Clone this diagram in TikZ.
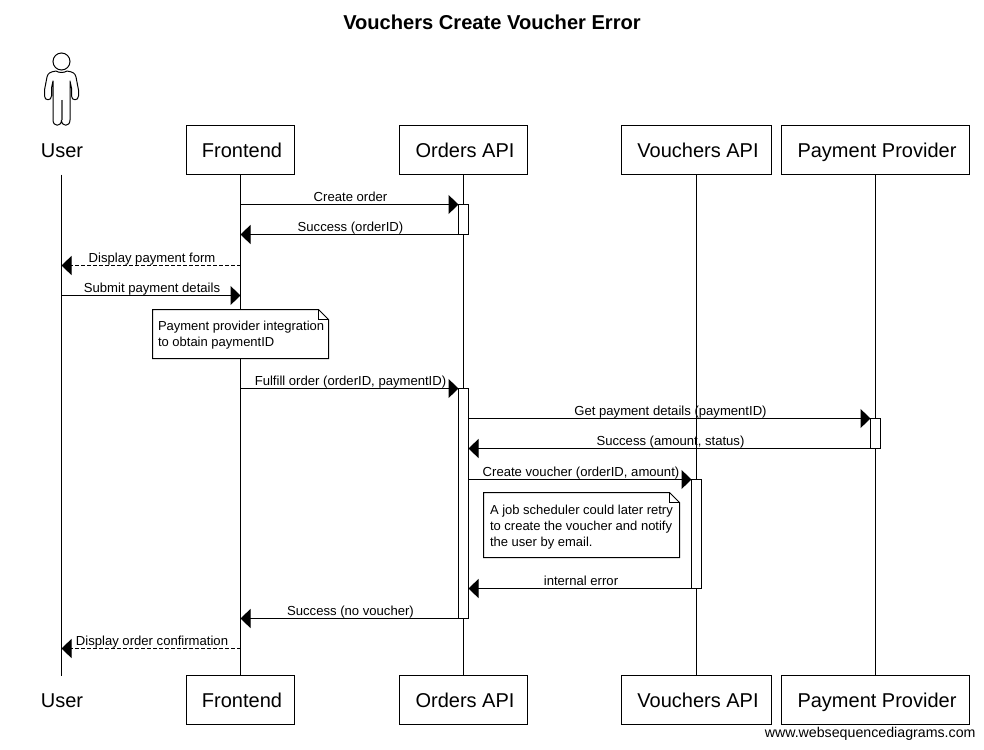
\documentclass[tikz,border=0pt]{standalone}
\usepackage{fontspec}
\setmainfont{Liberation Sans}
\usetikzlibrary{arrows.meta, positioning, calc}

\begin{document}
\begin{tikzpicture}[
    x=1pt, y=-1pt,
    line width=1pt,
    actorbase/.style={rectangle, minimum height=49pt, inner sep=0pt, outer sep=0pt, text height=18pt, text depth=4pt, font=\fontsize{20}{24}\selectfont},
    actor/.style={actorbase, draw=black, fill=white, execute at begin node=\kern3pt},
    plainactor/.style={actorbase, execute at begin node=\kern1pt},
    active/.style={rectangle, draw=black, fill=white, minimum width=10pt, inner sep=0pt, outer sep=0pt},
    lifeline/.style={line width=1pt, black},
    forward/.style={-{Triangle[length=10pt,width=19pt]}, black},
    backward/.style={-{Triangle[length=10pt,width=19pt]}, black, dash pattern=on 4pt off 2pt},
    msg/.style={midway, above=1pt, xshift=1pt, inner sep=0pt, outer sep=0pt, text height=10pt, text depth=2pt, font=\fontsize{13.1}{16}\selectfont},
    notebox/.style={rectangle, inner sep=0pt, outer sep=0pt, anchor=north west},
    notetext/.style={rectangle, inner sep=0pt, outer sep=0pt, align=left, anchor=north west, font=\fontsize{13}{16}\selectfont}
]
    \useasboundingbox (0,0) rectangle (984,749);
    \fill[white] (0,0) rectangle (984,749);

    % Title
    \node (title) [font=\fontsize{20.1}{24}\selectfont\bfseries] at (492,22) {Vouchers Create Voucher Error};

    % ========== Actors (top) ==========
    \node (user_top) [plainactor, minimum width=60pt] at (61.5,150) {User};
    \node (frontend_top) [actor, minimum width=108pt] at (240.5,150) {Frontend};
    \node (orders_top) [actor, minimum width=128pt] at (463.5,150) {Orders API};
    \node (vouchers_top) [actor, minimum width=150pt] at (696.5,150) {Vouchers API};
    \node (payment_top) [actor, minimum width=188pt] at (875.5,150) {Payment Provider};

    % ========== Actors (bottom) ==========
    \node (user_bot) [plainactor, minimum width=60pt] at (61.5,700) {User};
    \node (frontend_bot) [actor, minimum width=108pt] at (240.5,700) {Frontend};
    \node (orders_bot) [actor, minimum width=128pt] at (463.5,700) {Orders API};
    \node (vouchers_bot) [actor, minimum width=150pt] at (696.5,700) {Vouchers API};
    \node (payment_bot) [actor, minimum width=188pt] at (875.5,700) {Payment Provider};

    % Stick figure
    \draw[line width=1pt] (61.5,61.5) circle (8.5);
    \draw[line width=1pt, line join=round]
        (56,71) .. controls (50,72) and (48,73) .. (47,77)
        -- (44.5,90) -- (44.5,96) .. controls (44.5,101) and (51.5,101) .. (51.5,96)
        -- (51.5,88) -- (53,81) -- (53,120) .. controls (53,127) and (61.5,127) .. (61.5,120)
        .. controls (61.5,127) and (70,127) .. (70,120)
        -- (70,81) -- (71.5,88) -- (71.5,96) .. controls (71.5,101) and (78.5,101) .. (78.5,96)
        -- (78.5,90) -- (76,77) .. controls (75,73) and (73,72) .. (67,71)
        .. controls (64,73) and (59,73) .. (56,71);
    \draw[line width=2pt, black!60] (61.5,100) -- (61.5,120);

    % Lifelines
    \draw [lifeline] (user_top.south) -- (user_bot.north);
    \draw [lifeline] (frontend_top.south) -- (frontend_bot.north);
    \draw [lifeline] (orders_top.south) -- (orders_bot.north);
    \draw [lifeline] (vouchers_top.south) -- (vouchers_bot.north);
    \draw [lifeline] (payment_top.south) -- (payment_bot.north);

    % Activations
    \node (orders_act1) [active, minimum height=30pt] at (463.5,219.5) {};
    \node (orders_act2) [active, minimum height=230pt] at (463.5,503.5) {};
    \node (payment_act) [active, minimum height=30pt] at (875.5,433.5) {};
    \node (vouchers_act) [active, minimum height=109pt] at (696.5,534) {};

    % Free ends on the lifelines
    \coordinate (f_create) at (240.5,204.5);
    \coordinate (f_success) at (240.5,234.5);
    \coordinate (f_form) at (240.5,265.5);
    \coordinate (u_form) at (61.5,265.5);
    \coordinate (u_submit) at (61.5,295.5);
    \coordinate (f_submit) at (240.5,295.5);
    \coordinate (f_fulfill) at (240.5,388.5);
    \coordinate (f_done) at (240.5,618.5);
    \coordinate (f_confirm) at (240.5,648.5);
    \coordinate (u_confirm) at (61.5,648.5);
    \coordinate (o_get) at (468.5,418.5);
    \coordinate (o_success) at (468.5,448.5);
    \coordinate (o_voucher) at (468.5,479.5);
    \coordinate (o_error) at (468.5,588.5);

    % Order creation
    \draw [forward] (f_create) -- (orders_act1.north west) node[msg] {Create order};
    \draw [forward] (orders_act1.south west) -- (f_success) node[msg] {Success (orderID)};
    \draw [backward] (f_form) -- (u_form) node[msg] {Display payment form};
    \draw [forward] (u_submit) -- (f_submit) node[msg] {Submit payment details};

    % Note on Frontend
    \node (note_pay) [notebox, minimum width=176pt, minimum height=49pt] at (152.5,309.5) {};
    \draw[fill=white] (note_pay.north west) -- ([xshift=-10pt]note_pay.north east) -- ([yshift=-10pt]note_pay.north east)
        -- (note_pay.south east) -- (note_pay.south west) -- cycle;
    \draw ([xshift=-10pt]note_pay.north east) -- ([xshift=-10pt,yshift=-10pt]note_pay.north east) -- ([yshift=-10pt]note_pay.north east);
    \node (note_pay_text) [notetext] at (158,321) {Payment provider integration\\to obtain paymentID};

    % Fulfilment
    \draw [forward] (f_fulfill) -- (orders_act2.north west) node[msg] {Fulfill order (orderID, paymentID)};
    \draw [forward] (o_get) -- (payment_act.north west) node[msg] {Get payment details (paymentID)};
    \draw [forward] (payment_act.south west) -- (o_success) node[msg] {Success (amount, status)};
    \draw [forward] (o_voucher) -- (vouchers_act.north west) node[msg] {Create voucher (orderID, amount)};

    % Note on Vouchers API
    \node (note_job) [notebox, minimum width=196pt, minimum height=65pt] at (483.5,492.5) {};
    \draw[fill=white] (note_job.north west) -- ([xshift=-10pt]note_job.north east) -- ([yshift=-10pt]note_job.north east)
        -- (note_job.south east) -- (note_job.south west) -- cycle;
    \draw ([xshift=-10pt]note_job.north east) -- ([xshift=-10pt,yshift=-10pt]note_job.north east) -- ([yshift=-10pt]note_job.north east);
    \node (note_job_text) [notetext] at (490,505) {A job scheduler could later retry\\to create the voucher and notify\\the user by email.};

    % Results
    \draw [forward] (vouchers_act.south west) -- (o_error) node[msg] {internal error};
    \draw [forward] (orders_act2.south west) -- (f_done) node[msg] {Success (no voucher)};
    \draw [backward] (f_confirm) -- (u_confirm) node[msg] {Display order confirmation};

    % Footer
    \node (footer) [anchor=east, inner sep=0pt, font=\fontsize{14.2}{16}\selectfont] at (976,734) {www.websequencediagrams.com};
\end{tikzpicture}
\end{document}
